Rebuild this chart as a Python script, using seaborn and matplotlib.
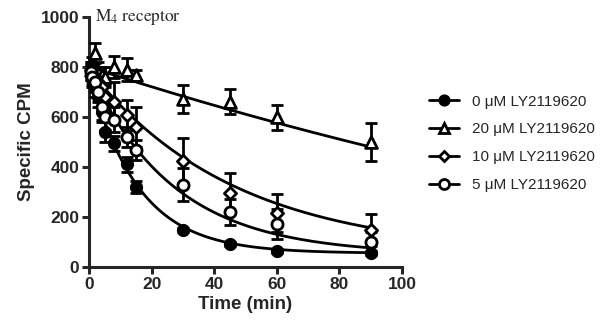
import numpy as np
import pandas as pd
import matplotlib
matplotlib.use("Agg")
import matplotlib.pyplot as plt
import seaborn as sns
from matplotlib.lines import Line2D

# ---------------- data ----------------
time_min = [0.5, 1, 2, 3, 4, 5, 8, 12, 15, 30, 45, 60, 90]
series_labels = ["0 \u03bcM LY2119620", "20 \u03bcM LY2119620",
                 "10 \u03bcM LY2119620", "5 \u03bcM LY2119620"]

cpm_0uM = [780, 760, 720, 680, 620, 540, 495, 412, 321, 147, 92, 65, 55]
err_0uM = [30, 40, 40, 40, 40, 40, 30, 30, 25, 8, 8, 8, 8]

cpm_20uM = [790, 800, 855, 780, 770, 760, 800, 790, 768, 672, 661, 599, 501]
err_20uM = [30, 40, 40, 40, 30, 40, 45, 45, 20, 55, 50, 50, 75]

cpm_10uM = [790, 770, 760, 740, 720, 680, 661, 608, 561, 425, 297, 217, 148]
err_10uM = [30, 30, 40, 40, 40, 50, 80, 60, 80, 90, 80, 75, 65]

cpm_5uM = [780, 760, 740, 700, 640, 600, 590, 521, 468, 330, 221, 172, 101]
err_5uM = [30, 30, 40, 40, 50, 50, 50, 40, 40, 65, 53, 60, 40]

# one-phase decay fit parameters for each series
fit_top = [780, 800, 790, 790]
fit_plateau = [55, -500, 50, 50]
fit_k = [0.064, 0.00314, 0.0215, 0.037]

values = [cpm_0uM, cpm_20uM, cpm_10uM, cpm_5uM]
errors = [err_0uM, err_20uM, err_10uM, err_5uM]

# ---------------- style ----------------
sns.set_style("ticks")
plt.rcParams["font.family"] = ["Liberation Sans", "DejaVu Sans"]
plt.rcParams["mathtext.fontset"] = "stix"

markers = ["o", "^", "D", "o"]
faces = ["black", "white", "white", "white"]
msizes = [7.5, 8.5, 6.2, 8]

fig = plt.figure(figsize=(6.05, 3.26), dpi=100)
ax = fig.add_axes([89 / 605, 1 - 267 / 326, (402 - 89) / 605, (267 - 17) / 326])

# fit curves through seaborn
t_fit = np.linspace(0, 90, 300)
rows = []
for lab, top, pl, k in zip(series_labels, fit_top, fit_plateau, fit_k):
    yfit = pl + (top - pl) * np.exp(-k * t_fit)
    rows.append(pd.DataFrame({"t": t_fit, "y": yfit, "series": lab}))
fit_df = pd.concat(rows)
sns.lineplot(data=fit_df, x="t", y="y", hue="series",
             palette=["black"] * 4, linewidth=2, legend=False, ax=ax,
             hue_order=series_labels)

# data points with error bars
for i, lab in enumerate(series_labels):
    ax.errorbar(time_min, values[i], yerr=errors[i], fmt="none",
                ecolor="black", elinewidth=2, capsize=4, capthick=2,
                clip_on=False, zorder=3)
    df = pd.DataFrame({"t": time_min, "y": values[i]})
    sns.scatterplot(data=df, x="t", y="y", marker=markers[i], s=msizes[i] ** 2,
                    color=faces[i], edgecolor="black", linewidth=2,
                    ax=ax, zorder=4, clip_on=False, legend=False)

ax.set_xlim(0, 100)
ax.set_ylim(0, 1000)
ax.set_xticks([0, 20, 40, 60, 80, 100])
ax.set_yticks([0, 200, 400, 600, 800, 1000])
sns.despine(ax=ax)
for s in ["left", "bottom"]:
    ax.spines[s].set_linewidth(2.2)
ax.tick_params(width=2.2, length=5, labelsize=12.5, pad=2)
for lbl in ax.get_xticklabels() + ax.get_yticklabels():
    lbl.set_fontweight("bold")
ax.set_xlabel("Time (min)", fontsize=13.5, fontweight="bold", labelpad=3)
ax.set_ylabel("Specific CPM", fontsize=13.5, fontweight="bold", labelpad=4)

ax.text(2.0, 1000, r"$\mathrm{M_4\ receptor}$", fontsize=12.5, va="center",
        ha="left")

handles = [Line2D([0], [0], color="black", lw=2, marker=markers[i],
                  markersize=msizes[i] * 0.9, markerfacecolor=faces[i],
                  markeredgecolor="black", markeredgewidth=2)
           for i in range(4)]
fig.legend(handles, series_labels, loc="upper left",
           bbox_to_anchor=(415 / 605, 1 - 81 / 326), frameon=False,
           fontsize=11, handlelength=2.0, handletextpad=0.8,
           labelspacing=0.9)

fig.savefig("out.png", dpi=100)
